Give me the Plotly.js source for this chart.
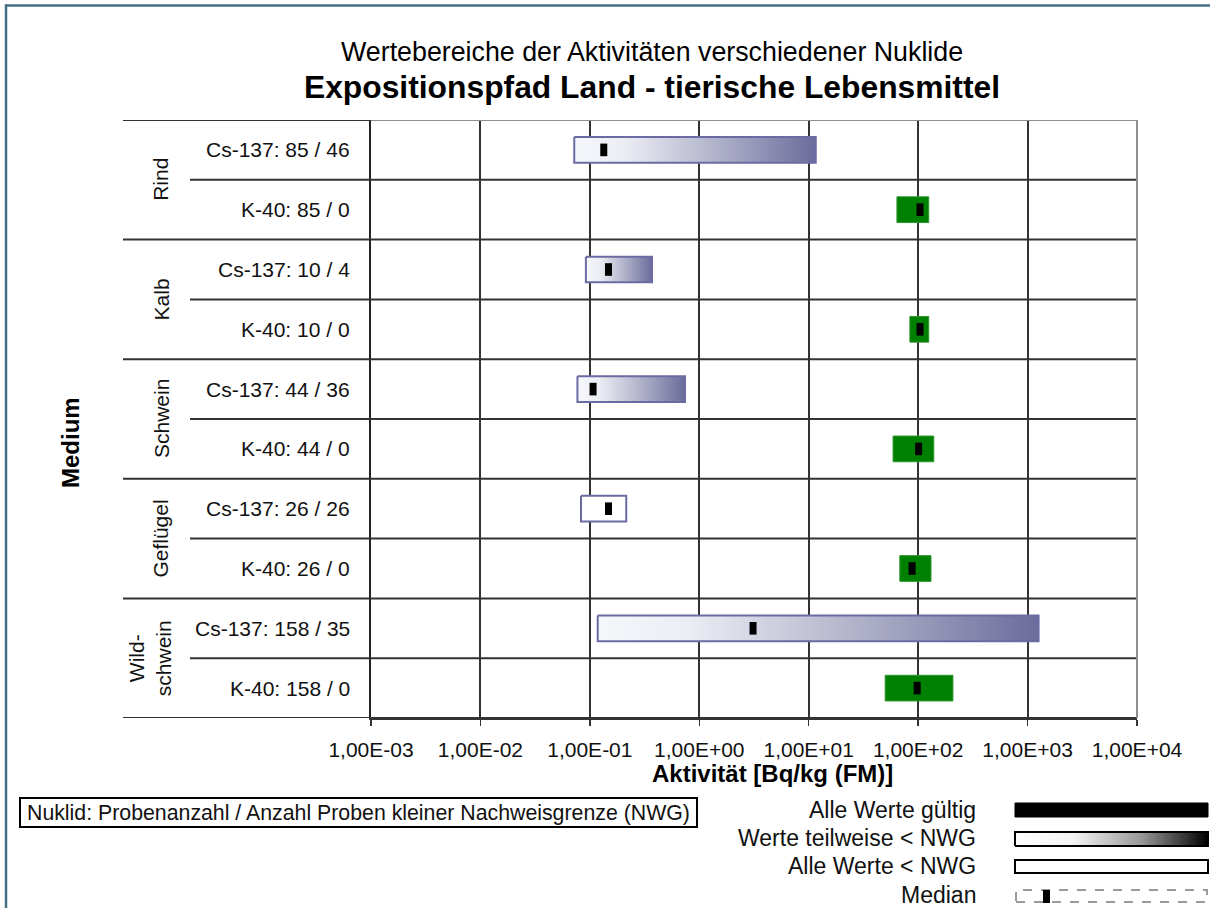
<!DOCTYPE html>
<html>
<head>
<meta charset="utf-8">
<script src="https://cdn.plot.ly/plotly-3.0.1.min.js"></script>
<style>html,body{margin:0;padding:0;background:#fff;}#chart{width:1210px;height:908px;}</style>
</head>
<body>
<div id="chart"></div>
<script>
// ---------- data ----------
const medium = ['Rind','Rind','Kalb','Kalb','Schwein','Schwein','Geflügel','Geflügel','Wildschwein','Wildschwein'];
const nuklid = ['Cs-137','K-40','Cs-137','K-40','Cs-137','K-40','Cs-137','K-40','Cs-137','K-40'];
const probenanzahl = [85, 85, 10, 10, 44, 44, 26, 26, 158, 158];
const unterNWG = [46, 0, 4, 0, 36, 0, 26, 0, 35, 0];
const minWert = [0.072, 64, 0.092, 84, 0.077, 59, 0.083, 68, 0.118, 50];
const maxWert = [11.6, 125, 0.37, 125, 0.74, 139, 0.215, 131, 1260, 208];
const medianWert = [0.134, 104, 0.148, 104, 0.107, 101, 0.148, 88, 3.1, 98];
const gruppenLabels = ['Rind','Kalb','Schwein','Geflügel','Wild-<br>schwein'];
const tickWerte = [1e-3, 1e-2, 1e-1, 1e0, 1e1, 1e2, 1e3, 1e4];
const tickTexte = ['1,00E-03','1,00E-02','1,00E-01','1,00E+00','1,00E+01','1,00E+02','1,00E+03','1,00E+04'];
const legendeTexte = ['Alle Werte gültig','Werte teilweise < NWG','Alle Werte < NWG','Median'];

// ---------- helpers (pixel -> paper) ----------
const W = 1210, H = 908;
const px = x => x / W;
const py = y => 1 - y / H;
const FONT = 'Liberation Sans, Arial, sans-serif';

const plotL = 371, plotR = 1137, plotT = 120, plotB = 718;
const halfH = 0.215;

const traces = [];
const gradScale = [[0,'#f5f7fb'],[0.2,'#eceef5'],[0.55,'#b7b8ce'],[1,'#6c6c9c']];

for (let i = 0; i < nuklid.length; i++) {
  const lo = minWert[i], hi = maxWert[i];
  const t = {
    type: 'scatter', mode: 'lines',
    x: [lo, hi, hi, lo, lo],
    y: [i - halfH, i - halfH, i + halfH, i + halfH, i - halfH],
    fill: 'toself', hoverinfo: 'skip', showlegend: false,
    xaxis: 'x', yaxis: 'y'
  };
  if (unterNWG[i] === 0) {
    t.fillcolor = '#008000';
    t.line = {color: '#2f962f', width: 1};
  } else if (unterNWG[i] === probenanzahl[i]) {
    t.fillcolor = '#ffffff';
    t.line = {color: '#6b6ba3', width: 2};
  } else {
    t.fillgradient = {type: 'horizontal', colorscale: gradScale};
    t.line = {color: '#6b6ba3', width: 2};
  }
  traces.push(t);
}

traces.push({
  type: 'scatter', mode: 'markers',
  x: medianWert, y: nuklid.map((_, i) => i),
  marker: {symbol: 'line-ns', size: 9, color: '#000', line: {width: 7, color: '#000'}},
  hoverinfo: 'skip', showlegend: false, xaxis: 'x', yaxis: 'y'
});

// legend gradient swatch on its own small subplot
const sw = {x0: 1015, x1: 1208, y0: 832, y1: 846};
const dom = {x0: 1011, x1: 1210, y0: 828, y1: 850};
const sx = (sw.x1 - sw.x0), sy = (sw.y1 - sw.y0);
traces.push({
  type: 'scatter', mode: 'lines',
  x: [0, 1, 1, 0, 0], y: [0, 0, 1, 1, 0],
  fill: 'toself',
  fillgradient: {type: 'horizontal', colorscale: [[0,'#ffffff'],[0.3,'#f4f4f4'],[0.65,'#9a9a9a'],[1,'#000000']]},
  line: {color: '#000', width: 2},
  hoverinfo: 'skip', showlegend: false, xaxis: 'x2', yaxis: 'y2'
});

// ---------- shapes ----------
const shapes = [];
// frame
shapes.push({type:'line', xref:'paper', yref:'paper', x0:px(5), x1:px(1210), y0:py(5.5), y1:py(5.5), line:{color:'#436f82', width:2.5}});
shapes.push({type:'line', xref:'paper', yref:'paper', x0:px(6), x1:px(6), y0:py(4.5), y1:py(908), line:{color:'#436f82', width:2.5}});
// row lines
for (let k = 0; k <= nuklid.length; k++) {
  const yv = k - 0.5;
  const startX = (k % 2 === 0) ? 123 : 190;
  if (k === 0) {
    shapes.push({type:'line', xref:'paper', yref:'y', x0:px(startX), x1:px(plotL), y0:yv, y1:yv, line:{color:'#333', width:2}});
    shapes.push({type:'line', xref:'paper', yref:'y', x0:px(plotL), x1:px(plotR), y0:yv, y1:yv, line:{color:'#8e8e8e', width:2}});
  } else {
    shapes.push({type:'line', xref:'paper', yref:'y', x0:px(startX), x1:px(plotR), y0:yv, y1:yv, line:{color:'#333', width:2}});
  }
}
// right plot border
shapes.push({type:'line', xref:'paper', yref:'paper', x0:px(plotR), x1:px(plotR), y0:py(plotT), y1:py(plotB), line:{color:'#8e8e8e', width:2}});
// left note box
shapes.push({type:'rect', xref:'paper', yref:'paper', x0:px(20), x1:px(697), y0:py(827), y1:py(798), line:{color:'#000', width:2}, fillcolor:'rgba(0,0,0,0)'});
// legend swatches
shapes.push({type:'rect', xref:'paper', yref:'paper', x0:px(1015), x1:px(1208), y0:py(817), y1:py(803), line:{color:'#000', width:1}, fillcolor:'#000'});
shapes.push({type:'rect', xref:'paper', yref:'paper', x0:px(1015), x1:px(1208), y0:py(873), y1:py(860), line:{color:'#000', width:2}, fillcolor:'#fff'});
shapes.push({type:'rect', xref:'paper', yref:'paper', x0:px(1016), x1:px(1207), y0:py(902), y1:py(890), line:{color:'#9a9a9a', width:2, dash:'dash'}, fillcolor:'rgba(0,0,0,0)'});
shapes.push({type:'rect', xref:'paper', yref:'paper', x0:px(1043), x1:px(1050), y0:py(903), y1:py(890), line:{color:'#000', width:0}, fillcolor:'#000'});

// ---------- annotations ----------
const annotations = [];
annotations.push({text:'Wertebereiche der Aktivitäten verschiedener Nuklide', xref:'paper', yref:'paper', x:px(652), y:py(52), xanchor:'center', yanchor:'middle', showarrow:false, font:{family:FONT, size:26.8, color:'#000'}});
for (let i = 0; i < nuklid.length; i++) {
  annotations.push({text: nuklid[i] + ': ' + probenanzahl[i] + ' / ' + unterNWG[i], xref:'paper', yref:'y', x:px(352), y:i, xanchor:'right', yanchor:'middle', showarrow:false, font:{family:FONT, size:21, color:'#111'}});
}
for (let g = 0; g < gruppenLabels.length; g++) {
  const twoLines = gruppenLabels[g].indexOf('<br>') >= 0;
  annotations.push({text: gruppenLabels[g], xref:'paper', yref:'y', x:px(twoLines ? 150 : 161), y:2*g + 0.5, xanchor:'center', yanchor:'middle', textangle:-90, showarrow:false, font:{family:FONT, size:21, color:'#111'}});
}
annotations.push({text:'<b>Medium</b>', xref:'paper', yref:'paper', x:px(70), y:py(443), xanchor:'center', yanchor:'middle', textangle:-90, showarrow:false, font:{family:FONT, size:24, color:'#000'}});
annotations.push({text:'<b>Aktivität [Bq/kg (FM)]</b>', xref:'paper', yref:'paper', x:px(772), y:py(773), xanchor:'center', yanchor:'middle', showarrow:false, font:{family:FONT, size:24, color:'#000'}});
annotations.push({text:'Nuklid: Probenanzahl / Anzahl Proben kleiner Nachweisgrenze (NWG)', xref:'paper', yref:'paper', x:px(358.5), y:py(812.5), xanchor:'center', yanchor:'middle', showarrow:false, font:{family:FONT, size:21.3, color:'#111'}});
const legY = [810, 838, 866, 895];
for (let k = 0; k < legendeTexte.length; k++) {
  annotations.push({text: legendeTexte[k].replace('<', '&lt;'), xref:'paper', yref:'paper', x:px(978), y:py(legY[k]), xanchor:'right', yanchor:'middle', showarrow:false, font:{family:FONT, size:23, color:'#111'}});
}

const layout = {
  width: W, height: H,
  margin: {l:0, r:0, t:0, b:0, pad:0},
  paper_bgcolor: '#fff', plot_bgcolor: '#fff',
  font: {family: FONT, color: '#111'},
  showlegend: false,
  title: {text:'<b>Expositionspfad Land - tierische Lebensmittel</b>', font:{family:FONT, size:31.8, color:'#000'}, xref:'paper', x:px(652), xanchor:'center', yref:'paper', y:py(87), yanchor:'middle'},
  xaxis: {
    type:'log', range:[-3, 4], domain:[px(plotL), px(plotR)], anchor:'y',
    tickvals: tickWerte, ticktext: tickTexte,
    tickfont: {family:FONT, size:21, color:'#111'},
    ticks:'outside', ticklen:6, tickwidth:1.5, tickcolor:'#333', ticklabelstandoff: 6,
    showgrid:true, gridcolor:'#333', gridwidth:2, zeroline:false,
    showline:true, linecolor:'#333', linewidth:2, fixedrange:true
  },
  yaxis: {
    range:[nuklid.length - 0.5, -0.5], domain:[py(plotB), py(plotT)], anchor:'x',
    showticklabels:false, ticks:'', showgrid:false, zeroline:false,
    showline:true, linecolor:'#222', linewidth:2, fixedrange:true
  },
  xaxis2: {domain:[px(dom.x0), px(dom.x1)], anchor:'y2', range:[-(sw.x0 - dom.x0)/sx, 1 + (dom.x1 - sw.x1)/sx], visible:false, fixedrange:true},
  yaxis2: {domain:[py(dom.y1), py(dom.y0)], anchor:'x2', range:[-(dom.y1 - sw.y1)/sy, 1 + (sw.y0 - dom.y0)/sy], visible:false, fixedrange:true},
  shapes: shapes,
  annotations: annotations
};

Plotly.newPlot('chart', traces, layout, {displayModeBar:false, staticPlot:true});
</script>
</body>
</html>
